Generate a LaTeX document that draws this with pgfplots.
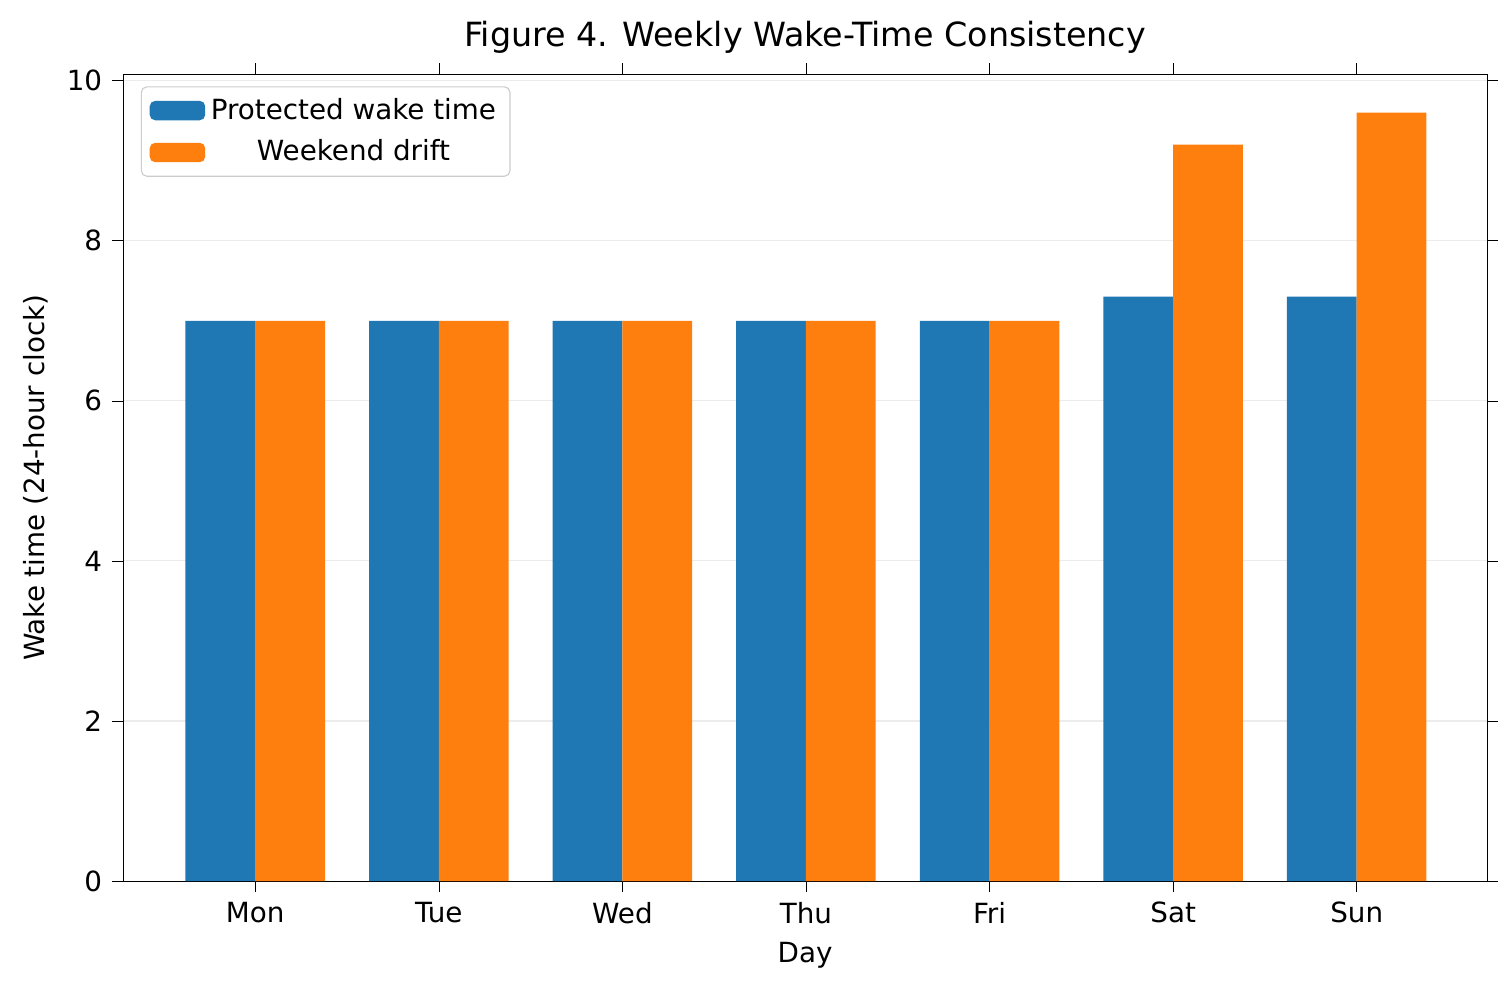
\documentclass[border=0pt]{standalone}
\usepackage{pgfplots}
\pgfplotsset{compat=1.18}
\usepackage{fontspec}
\setmainfont{DejaVu Sans}
\definecolor{mblue}{HTML}{1F77B4}
\definecolor{morange}{HTML}{FF7F0E}
\begin{document}
\begin{tikzpicture}
\path[use as bounding box] (-44.3pt,-41.4pt) rectangle (498.9pt,317.2pt);
\begin{axis}[
  scale only axis, width=491pt, height=290.5pt,
  xmin=-0.72, xmax=6.71, ymin=0, ymax=10.08,
  xtick={0,...,6}, xticklabels={Mon,Tue,Wed,Thu,Fri,Sat,Sun},
  ytick={0,2,4,6,8,10},
  ymajorgrids, grid style={gray!15},
  tick align=outside, tick style={black}, major tick length=4pt,
  xtick style={black},
  font=\fontsize{10pt}{12pt}\selectfont,
  /pgf/number format/assume math mode=true,
  ybar, bar width=0.38,
  title={Figure 4. Weekly Wake-Time Consistency},
  title style={font=\fontsize{12pt}{14pt}\selectfont, yshift=-2pt},
  xlabel={Day}, ylabel={Wake time (24-hour clock)},
  legend style={at={(0.013,0.985)}, anchor=north west, draw=gray!40, rounded corners=2pt, font=\fontsize{10pt}{12pt}\selectfont, row sep=2pt},
  legend image code/.code={\fill[#1] (0pt,-3.5pt) rectangle (20pt,3.5pt);},
  axis on top=false,
]
\addplot[fill=mblue, draw=none, bar shift=-0.19] coordinates {(0,7) (1,7) (2,7) (3,7) (4,7) (5,7.3) (6,7.3)};
\addplot[fill=morange, draw=none, bar shift=0.19] coordinates {(0,7) (1,7) (2,7) (3,7) (4,7) (5,9.2) (6,9.6)};
\legend{Protected wake time, Weekend drift}
\end{axis}
\end{tikzpicture}
\end{document}
